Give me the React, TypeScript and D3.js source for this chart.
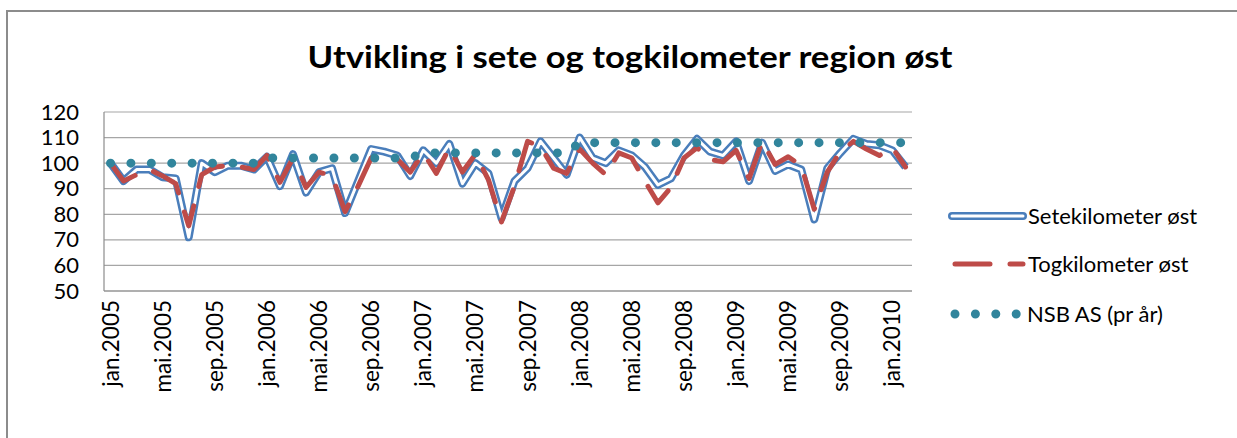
import React from 'react';
import * as d3 from 'd3';

// måneder jan.2005 - feb.2010
const monthNames = ['jan', 'feb', 'mar', 'apr', 'mai', 'jun', 'jul', 'aug', 'sep', 'okt', 'nov', 'des'];
const years = [2005, 2006, 2007, 2008, 2009, 2010];
const months = years.flatMap(y => monthNames.map(m => m + '.' + y)).slice(0, 62);

const setekm = [
  100, 93, 97.5, 97.5, 94.5, 94, 71, 100, 96.5, 99, 99, 97.5,
  102.5, 91, 103.5, 88.5, 96.5, 98, 80.5, 93, 105.5, 104.5, 103, 95,
  105, 100, 107.5, 92, 100, 96, 78.5, 93, 98, 108.5, 102, 95.5,
  110, 102, 100, 105, 103, 98.5, 91.5, 94, 103, 109.5, 104.5, 103,
  108.5, 93, 108, 97, 99.5, 97.5, 78, 98, 104, 109.5, 107.5, 107,
  105, 98.5,
];

const togkm = [
  100, 93, 95.5, 97.5, 95, 92, 75.5, 95.5, 98.5, 99, 98.5, 97.5,
  103, 92.5, 102, 90.5, 96.5, 95, 81, 91, 102, 103, 101.5, 96.5,
  104, 96, 106, 96.5, 103.5, 93.5, 77, 91, 108.5, 106.5, 98, 96,
  105.5, 100, 95.5, 104, 102, 93, 84.5, 90.5, 102, 106, 101.5, 100.5,
  105, 94, 108.5, 99.5, 102.5, 99, 82, 96.5, 104.5, 108.5, 105.5, 103,
  106, 98.5,
];

// NSB AS, ett tall per år
const nsbPerYear = [100, 102, 104, 108, 108, 108];
const nsb = months.map(m => nsbPerYear[years.indexOf(+m.slice(-4))]);

const yTicks = [50, 60, 70, 80, 90, 100, 110, 120];
const labelEvery = 4;

const font = 'Lato, "Open Sans", sans-serif';
const blue = '#4a7ebb';
const red = '#be4b48';
const teal = '#31859c';

export default function App() {
  const plot = { left: 104, right: 912, top: 112, bottom: 291 };

  const x = d3.scaleBand().domain(months).range([plot.left, plot.right]);
  const cx = (m: string) => (x(m) as number) + x.bandwidth() / 2;
  const y = d3.scaleLinear().domain([50, 120]).range([plot.bottom, plot.top]);

  const line = d3.line<number>()
    .x((d, i) => cx(months[i]))
    .y(d => y(d));

  return (
    <svg width={1237} height={438} style={{ position: 'absolute', left: 0, top: 0, background: '#fff' }}>
      <rect x={7} y={11} width={1300} height={500} fill="#fff" stroke="#8c8c8c" strokeWidth={2} />

      <text x={630} y={68} textAnchor="middle" fontFamily={font} fontWeight="bold" fontSize={31}
        textLength={645} lengthAdjust="spacingAndGlyphs" fill="#000">
        Utvikling i sete og togkilometer region øst
      </text>

      {yTicks.map(t => (
        <g key={t}>
          <line x1={plot.left} x2={plot.right} y1={y(t)} y2={y(t)} stroke="#a6a6a6" strokeWidth={1.2} />
          <text x={79} y={y(t) + 7.5} textAnchor="end" fontFamily={font} fontSize={22} fill="#000">{t}</text>
        </g>
      ))}
      <line x1={plot.left} x2={plot.left} y1={plot.top} y2={plot.bottom} stroke="#8c8c8c" strokeWidth={1.2} />
      <line x1={plot.left} x2={plot.right} y1={plot.bottom} y2={plot.bottom} stroke="#8c8c8c" strokeWidth={1.2} />

      {months.filter((m, i) => i % labelEvery === 0).map(m => (
        <text
          key={m}
          transform={'translate(' + (cx(m) + 8) + ',' + (plot.bottom + 9) + ') rotate(-90)'}
          textAnchor="end"
          fontFamily={font}
          fontSize={22.5}
          fill="#000"
        >
          {m}
        </text>
      ))}

      <path d={line(setekm) || ''} fill="none" stroke={blue} strokeWidth={8} strokeLinejoin="round" />
      <path d={line(setekm) || ''} fill="none" stroke="#fff" strokeWidth={3} strokeLinejoin="round" />
      <path d={line(togkm) || ''} fill="none" stroke={red} strokeWidth={5} strokeLinecap="round" strokeLinejoin="round" strokeDasharray="35,20" />
      <path d={line(nsb) || ''} fill="none" stroke={teal} strokeWidth={9} strokeLinecap="round" strokeDasharray="0,20.4" />

      {/* legend */}
      <line x1={952} x2={1023} y1={216} y2={216} stroke={blue} strokeWidth={8} strokeLinecap="round" />
      <line x1={952} x2={1023} y1={216} y2={216} stroke="#fff" strokeWidth={3} strokeLinecap="round" />
      <text x={1028} y={224} fontFamily={font} fontSize={22} fill="#000">Setekilometer øst</text>

      <line x1={955} x2={1023} y1={264} y2={264} stroke={red} strokeWidth={5} strokeLinecap="round" strokeDasharray="35,20" />
      <text x={1028} y={272} fontFamily={font} fontSize={22} fill="#000">Togkilometer øst</text>

      <line x1={955} x2={1018} y1={314} y2={314} stroke={teal} strokeWidth={9} strokeLinecap="round" strokeDasharray="0,20.4" />
      <text x={1027} y={322} fontFamily={font} fontSize={22} fill="#000">NSB AS (pr år)</text>
    </svg>
  );
}
